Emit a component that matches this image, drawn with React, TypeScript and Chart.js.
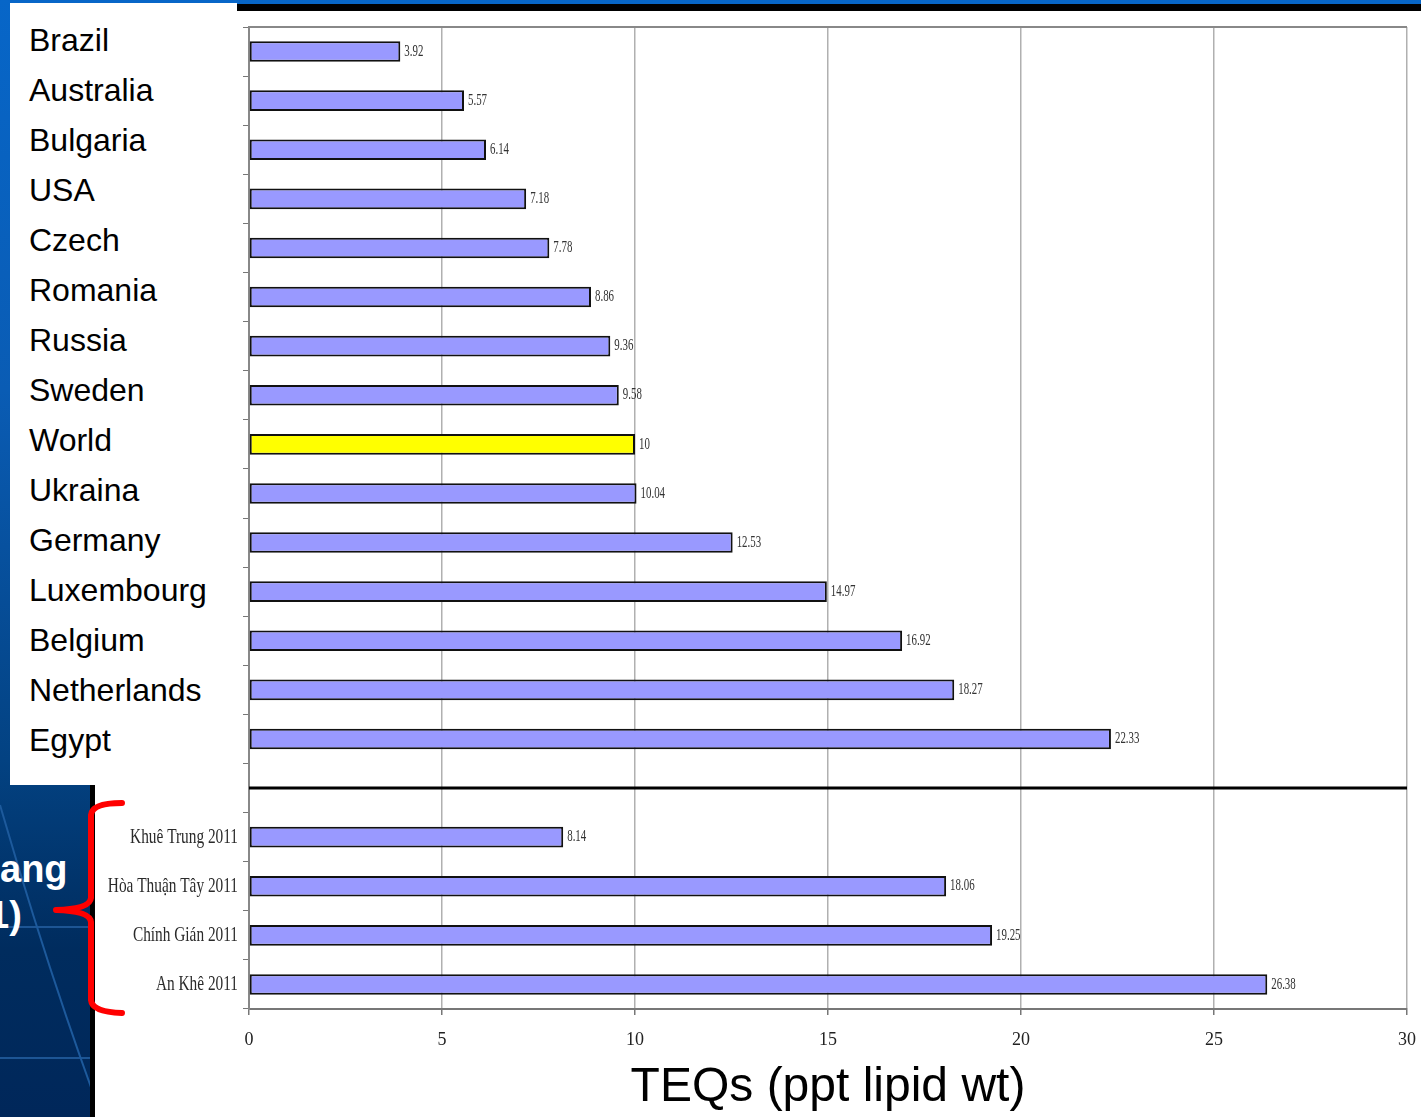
import React, { useEffect, useRef } from "react";
import { Chart, registerables } from "chart.js";

Chart.register(...registerables);

// ---- data ----
const countries = [
  "Brazil", "Australia", "Bulgaria", "USA", "Czech", "Romania", "Russia", "Sweden",
  "World", "Ukraina", "Germany", "Luxembourg", "Belgium", "Netherlands", "Egypt",
];
const countryValues = [3.92, 5.57, 6.14, 7.18, 7.78, 8.86, 9.36, 9.58, 10, 10.04, 12.53, 14.97, 16.92, 18.27, 22.33];
const siteLabels = ["Khuê Trung 2011", "Hòa Thuận Tây 2011", "Chính Gián 2011", "An Khê 2011"];
const siteValues = [8.14, 18.06, 19.25, 26.38];
const xTicks = [0, 5, 10, 15, 20, 25, 30];
const axisTitle = "TEQs (ppt lipid wt)";
const highlight = "World";

const labels = [...countries, "", ...siteLabels];
const values: (number | null)[] = [...countryValues, null, ...siteValues];

const SERIF = '"Liberation Serif", "Times New Roman", serif';
const SANS = '"Liberation Sans", Arial, sans-serif';

const overlayPlugin = {
  id: "overlay",
  afterDatasetsDraw(chart: any) {
    const ctx = chart.ctx;
    const area = chart.chartArea;
    const yScale = chart.scales.y;
    const meta = chart.getDatasetMeta(0);
    ctx.save();
    // value labels
    ctx.fillStyle = "#333";
    ctx.textBaseline = "middle";
    ctx.textAlign = "left";
    ctx.font = `16px ${SERIF}`;
    meta.data.forEach((bar: any, i: number) => {
      const v = values[i];
      if (v == null) return;
      ctx.save();
      ctx.translate(bar.x + 4, bar.y);
      ctx.scale(0.68, 1);
      ctx.fillText(String(v), 0, 0);
      ctx.restore();
    });
    // site category labels
    ctx.font = `21px ${SERIF}`;
    ctx.textAlign = "right";
    ctx.fillStyle = "#2a2a2a";
    siteLabels.forEach((lab, j) => {
      const py = yScale.getPixelForValue(countries.length + 1 + j);
      ctx.save();
      ctx.translate(area.left - 11, py);
      ctx.scale(0.73, 1);
      ctx.fillText(lab, 0, 0);
      ctx.restore();
    });
    // separator between groups
    const sy = yScale.getPixelForValue(countries.length);
    ctx.strokeStyle = "#000";
    ctx.lineWidth = 3;
    ctx.beginPath();
    ctx.moveTo(area.left, sy);
    ctx.lineTo(area.right, sy);
    ctx.stroke();
    // plot top border
    ctx.strokeStyle = "#888";
    ctx.lineWidth = 2;
    ctx.beginPath();
    ctx.moveTo(area.left, area.top);
    ctx.lineTo(area.right, area.top);
    ctx.stroke();
    ctx.restore();
  },
};

function BarChart() {
  const ref = useRef<HTMLCanvasElement | null>(null);
  useEffect(() => {
    if (!ref.current) return;
    const chart = new Chart(ref.current, {
      type: "bar",
      data: {
        labels,
        datasets: [
          {
            data: values,
            backgroundColor: labels.map((l) => (l === highlight ? "#ffff00" : "#9999ff")),
            borderColor: "#111",
            borderWidth: 2,
            borderSkipped: false,
            categoryPercentage: 1,
            barPercentage: 0.42,
          } as any,
        ],
      },
      options: {
        indexAxis: "y",
        animation: false,
        responsive: false,
        maintainAspectRatio: false,
        layout: { padding: { left: 0, right: 14, top: 16, bottom: 0 } },
        plugins: { legend: { display: false }, tooltip: { enabled: false } },
        scales: {
          x: {
            min: 0,
            max: 30,
            afterBuildTicks: (s: any) => {
              s.ticks = xTicks.map((v) => ({ value: v }));
            },
            ticks: { font: { family: SERIF, size: 18 }, color: "#222", padding: 14, maxRotation: 0 },
            grid: { color: "#b0b0b0", lineWidth: 1.5, tickLength: 6, tickColor: "#777" },
            border: { color: "#777", width: 2 },
            title: {
              display: true,
              text: axisTitle,
              font: { family: SANS, size: 48 },
              color: "#000",
              padding: { top: 0, bottom: 0 },
            },
            afterFit: (s: any) => {
              s.height = 108;
              s.paddingRight = 0;
              s.paddingLeft = 0;
            },
          },
          y: {
            ticks: { display: false },
            grid: { drawOnChartArea: false, offset: true, tickLength: 6, color: "#777" },
            border: { color: "#888", width: 2 },
            afterFit: (s: any) => {
              s.width = 154;
              s.paddingTop = 0;
              s.paddingBottom = 0;
            },
          },
        } as any,
      },
      plugins: [overlayPlugin],
    });
    return () => chart.destroy();
  }, []);
  return (
    <canvas
      ref={ref}
      width={1326}
      height={1106}
      style={{ position: "absolute", left: 95, top: 11, width: 1326, height: 1106, background: "#fff" }}
    />
  );
}

export default function App() {
  return (
    <div
      style={{
        position: "absolute",
        left: 0,
        top: 0,
        width: 1421,
        height: 1117,
        overflow: "hidden",
        background: "linear-gradient(to bottom, #0766c8 0%, #0a5cb4 35%, #034282 68%, #002c5e 85%, #00275a 100%)",
      }}
    >
      <svg width={95} height={1117} style={{ position: "absolute", left: 0, top: 0 }}>
        <line x1={0} y1={927} x2={92} y2={927} stroke="#1d5594" strokeWidth={2} />
        <line x1={0} y1={1058} x2={92} y2={1058} stroke="#1d5594" strokeWidth={2} />
        <path d="M 0 805 Q 45 960 92 1090" stroke="#1d5a9c" strokeWidth={2} fill="none" />
      </svg>
      <div style={{ position: "absolute", left: 95, top: 4, width: 1326, height: 7, background: "#000" }} />
      <div style={{ position: "absolute", left: 90, top: 785, width: 5, height: 332, background: "#000" }} />
      <BarChart />
      <div
        style={{
          position: "absolute",
          left: 10,
          top: 3,
          width: 227,
          height: 782,
          background: "#fff",
        }}
      >
        <div style={{ position: "absolute", left: 19, top: 12 }}>
          {countries.map((c) => (
            <div
              key={c}
              style={{ font: `32px ${SANS}`, lineHeight: "50px", height: 50, color: "#000", whiteSpace: "nowrap" }}
            >
              {c}
            </div>
          ))}
        </div>
      </div>
      <div
        style={{
          position: "absolute",
          left: 0,
          top: 850,
          font: `bold 38px ${SANS}`,
          lineHeight: "38px",
          color: "#fff",
          whiteSpace: "nowrap",
        }}
      >
        ang
      </div>
      <div
        style={{
          position: "absolute",
          left: -12,
          top: 896,
          font: `bold 38px ${SANS}`,
          lineHeight: "38px",
          color: "#fff",
          whiteSpace: "nowrap",
        }}
      >
        1)
      </div>
      <svg width={140} height={1117} style={{ position: "absolute", left: 0, top: 0 }}>
        <path
          d="M 122 803 Q 92 803 91 815 L 91 898 Q 90 909 56 910 Q 90 911 91 922 L 91 1000 Q 92 1012 122 1013"
          stroke="#ff0000"
          strokeWidth={6}
          fill="none"
          strokeLinecap="round"
          strokeLinejoin="round"
        />
      </svg>
    </div>
  );
}
